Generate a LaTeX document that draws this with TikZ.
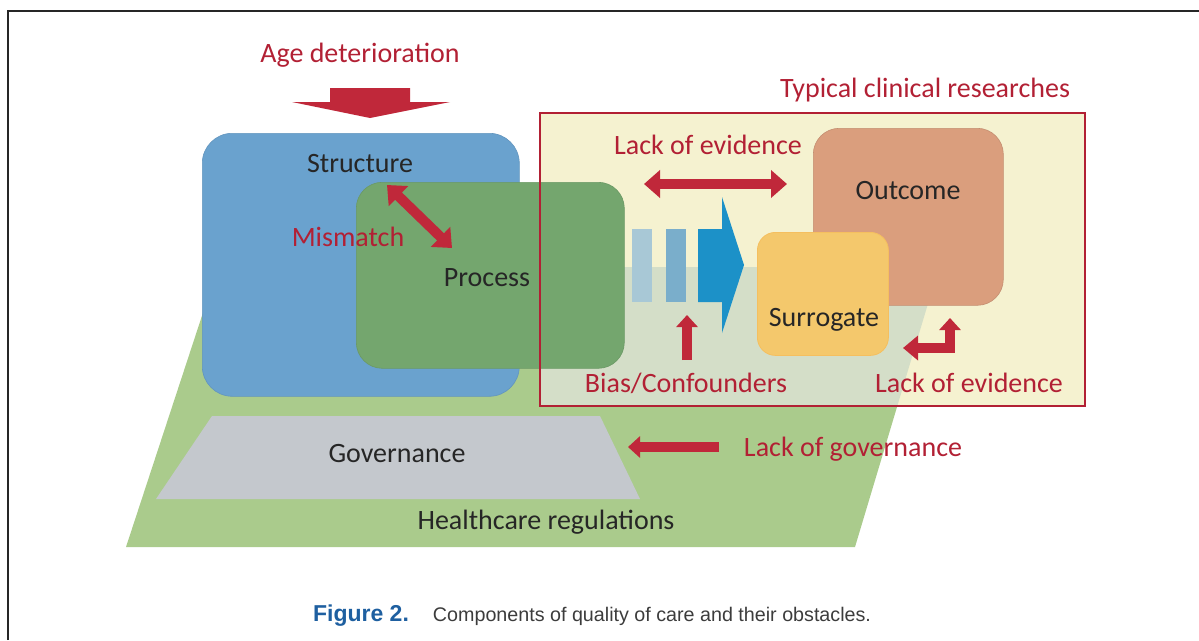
\documentclass[tikz,border=0pt]{standalone}
\usepackage{fontspec}
\setmainfont{Carlito}
\newfontfamily\capfont{Liberation Sans}
\usetikzlibrary{arrows.meta}

\definecolor{obsred}{RGB}{178,32,52}
\definecolor{arrowred}{RGB}{192,40,58}
\definecolor{labelgray}{RGB}{38,38,38}
\definecolor{structblue}{RGB}{106,162,206}
\definecolor{processgreen}{RGB}{116,166,110}
\definecolor{floorgreen}{RGB}{170,203,140}
\definecolor{govgray}{RGB}{196,200,205}
\definecolor{studyfill}{RGB}{245,242,208}
\definecolor{studyfloor}{RGB}{212,222,200}
\definecolor{outcomefill}{RGB}{218,158,125}
\definecolor{surrogatefill}{RGB}{244,200,108}
\definecolor{flowblue}{RGB}{28,145,200}
\definecolor{fadeA}{RGB}{168,200,214}
\definecolor{fadeB}{RGB}{122,174,203}
\definecolor{captionblue}{RGB}{30,95,160}
\definecolor{captiongray}{RGB}{60,60,60}

\tikzset{
  bighead/.tip={Triangle[length=16pt,width=27pt]},
  smallhead/.tip={Triangle[length=12pt,width=21pt]},
  elbowhead/.tip={Triangle[length=15pt,width=24pt]}
}

\begin{document}
\begin{tikzpicture}[x=1pt,y=-1pt,
  lbl/.style={font=\fontsize{28}{30}\selectfont, text=labelgray, inner sep=0pt, anchor=base},
  redlbl/.style={lbl, text=obsred},
  panel/.style={inner sep=0pt, anchor=north west},
  redarrow/.style={draw=arrowred, line width=10pt, line join=miter}
]
\useasboundingbox (0,0) rectangle (1199,640);

% healthcare regulations floor
\fill[floorgreen] (126,547) -- (855,547) -- (939,267) -- (218,267) -- cycle;

% governance layer
\fill[govgray] (212,416) -- (600,416) -- (640,499) -- (156,499) -- cycle;

% area of typical clinical researches
\fill[studyfill] (540,113) rectangle (1085,406);
\begin{scope}
  \clip (540,113) rectangle (1085,406);
  \fill[studyfloor] (126,547) -- (855,547) -- (939,267) -- (218,267) -- cycle;
\end{scope}

% quality components
\node[panel, fill=structblue, draw=structblue!92!black, line width=0.6pt,
      minimum width=317pt, minimum height=263pt, rounded corners=30pt]
      (structure) at (202,133) {};
\node[panel, fill=processgreen, draw=processgreen!92!black, line width=0.6pt,
      minimum width=268pt, minimum height=186pt, rounded corners=26pt]
      (process) at (356,182) {};
\node[panel, fill=outcomefill, draw=outcomefill!90!black, line width=0.6pt,
      minimum width=190pt, minimum height=177pt, rounded corners=26pt]
      (outcome) at (813,128) {};
\node[panel, fill=surrogatefill, draw=surrogatefill!88!orange, line width=0.8pt,
      minimum width=131pt, minimum height=123pt, rounded corners=18pt]
      (surrogate) at (757,232) {};

% fading flow from process to outcome
\fill[fadeA] (632,229) rectangle (652,302);
\fill[fadeB] (666,229) rectangle (686,302);
\fill[flowblue] (698,229) -- (722,229) -- (722,197) -- (744,265)
  -- (722,333) -- (722,302) -- (698,302) -- cycle;

% frame of typical clinical researches
\draw[obsred, line width=2.5pt] (540,113) rectangle (1085,406);

% age deterioration block arrow
\fill[arrowred] (330,88) -- (410,88) -- (410,102) -- (450,102) -- (370,118)
  -- (292,102) -- (330,102) -- cycle;

% obstacle arrows
\coordinate (mmA) at (387,185);
\coordinate (mmB) at (452,248);
\draw[redarrow, bighead-bighead] (mmA) -- (mmB);

\coordinate (evA) at (644,184);
\coordinate (evB) at (787,184);
\draw[redarrow, bighead-bighead] (evA) -- (evB);

\coordinate (biasA) at (687,360);
\coordinate (biasB) at (687,315);
\draw[redarrow, -smallhead] (biasA) -- (biasB);

\coordinate (surA) at (903,348);
\coordinate (surB) at (950,348);
\coordinate (surC) at (950,318);
\draw[redarrow, elbowhead-smallhead] (surA) -- (surB) -- (surC);

\coordinate (govA) at (719,447);
\coordinate (govB) at (628,447);
\draw[redarrow, -smallhead] (govA) -- (govB);

% labels
\node[redlbl] (age) at (360,62) {Age deterioration};
\node[redlbl] (typical) at (925,97) {Typical clinical researches};
\node[lbl] (tStructure) at (360,172) {Structure};
\node[redlbl] (mismatch) at (348,246) {Mismatch};
\node[lbl] (tProcess) at (487,286) {Process};
\node[redlbl] (evTop) at (708,154) {Lack of evidence};
\node[lbl] (tOutcome) at (908,199) {Outcome};
\node[lbl] (tSurrogate) at (824,326) {Surrogate};
\node[redlbl] (bias) at (686,392) {Bias/Confounders};
\node[redlbl] (evBottom) at (969,392) {Lack of evidence};
\node[redlbl] (lackgov) at (853,456) {Lack of governance};
\node[lbl] (tGovernance) at (397,462) {Governance};
\node[lbl] (tRegulations) at (546,529) {Healthcare regulations};

% caption
\node[inner sep=0pt, anchor=base, text=captionblue,
      font=\capfont\bfseries\fontsize{23}{26}\selectfont] (capNum) at (361,621) {Figure 2.};
\node[inner sep=0pt, anchor=base, text=captiongray,
      font=\capfont\fontsize{19.7}{22}\selectfont] (capText) at (652,621)
      {Components of quality of care and their obstacles.};

% page frame
\draw[black!85, line width=2.2pt] (8,640) -- (8,11) -- (1199,11);
\end{tikzpicture}
\end{document}
